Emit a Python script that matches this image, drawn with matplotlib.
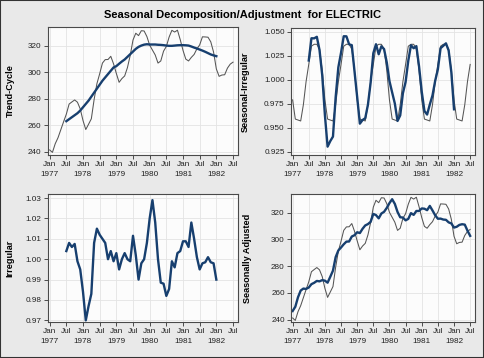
import matplotlib
matplotlib.use("Agg")
import matplotlib.pyplot as plt
from matplotlib.patches import Rectangle
from matplotlib.ticker import FormatStrFormatter
import numpy as np

plt.rcParams['font.family'] = ['Liberation Sans', 'DejaVu Sans']

# monthly series, Jan 1977 .. Jul 1982
original = [241.3, 239.5, 246.0, 250.5, 256.5, 262.5, 268.3, 275.9, 277.5, 279.0, 277.3, 272.3,
            263.5, 256.7, 260.7, 264.8, 279.3, 291.2, 298.7, 306.8, 309.4, 309.5, 311.9, 306.2,
            299.0, 292.3, 295.1, 297.1, 303.4, 312.6, 324.2, 329.3, 327.5, 331.2, 331.0, 326.8,
            320.3, 316.6, 312.9, 306.8, 308.4, 315.8, 319.3, 326.4, 331.5, 330.2, 331.6, 324.5,
            316.4, 309.8, 308.4, 311.1, 313.3, 317.5, 320.5, 326.6, 326.5, 326.3, 322.8, 315.1,
            302.4, 296.8, 297.8, 298.0, 303.0, 306.0, 307.5]

seasonal = [0.979, 0.959, 0.958, 0.957, 0.974, 0.998, 1.016, 1.035, 1.037, 1.037, 1.032, 1.010,
            0.979, 0.959, 0.958, 0.957, 0.974, 0.998, 1.016, 1.035, 1.037, 1.037, 1.032, 1.010,
            0.979, 0.959, 0.958, 0.957, 0.974, 0.998, 1.016, 1.035, 1.037, 1.037, 1.032, 1.010,
            0.979, 0.959, 0.958, 0.957, 0.974, 0.998, 1.016, 1.035, 1.037, 1.037, 1.032, 1.010,
            0.979, 0.959, 0.958, 0.957, 0.974, 0.998, 1.016, 1.035, 1.037, 1.037, 1.032, 1.010,
            0.979, 0.959, 0.958, 0.957, 0.974, 0.998, 1.016]

seas_adj = [246.5, 249.7, 256.8, 261.8, 263.3, 263.0, 264.1, 266.6, 267.6, 269.0, 268.7, 269.6,
            269.2, 267.7, 272.1, 276.7, 286.8, 291.8, 294.0, 296.4, 298.4, 298.5, 302.2, 303.2,
            305.4, 304.8, 308.0, 310.5, 311.5, 313.2, 319.1, 318.2, 315.8, 319.4, 320.7, 323.6,
            327.2, 330.1, 326.6, 320.6, 316.6, 316.4, 314.3, 315.4, 319.7, 318.4, 321.3, 321.3,
            323.2, 323.0, 321.9, 325.1, 321.7, 318.1, 315.5, 315.6, 314.9, 314.7, 312.8, 312.0,
            308.9, 309.5, 310.9, 311.4, 311.1, 306.6, 302.7]

# centred components, Jul 1977 .. Jan 1982
trend = [263.0, 264.5, 266.0, 267.5, 269.0, 271.0,
         273.5, 276.0, 278.5, 281.5, 284.5, 287.5, 290.5, 293.5, 296.0, 298.5, 301.0, 303.5,
         304.5, 306.3, 308.0, 309.5, 311.5, 313.5, 315.5, 317.5, 319.0, 320.0, 320.7, 321.0,
         320.8, 320.8, 320.8, 320.6, 320.5, 320.3, 320.0, 319.8, 319.8, 320.0, 320.2, 320.3,
         320.3, 320.2, 320.0, 319.3, 318.5, 317.8, 317.0, 316.2, 315.3, 314.3, 313.3, 312.6,
         312.0]

seas_irr = [1.0201, 1.0433, 1.0432, 1.0448, 1.0310, 1.0050,
            0.9633, 0.9302, 0.9360, 0.9407, 0.9818, 1.0130, 1.0282, 1.0454, 1.0453, 1.0370, 1.0361, 1.0090,
            0.9819, 0.9542, 0.9580, 0.9599, 0.9740, 0.9970, 1.0277, 1.0371, 1.0266, 1.0349, 1.0320, 1.0181,
            0.9986, 0.9868, 0.9752, 0.9570, 0.9628, 0.9860, 0.9977, 1.0199, 1.0360, 1.0329, 1.0351, 1.0140,
            0.9876, 0.9674, 0.9637, 0.9742, 0.9837, 0.9990, 1.0109, 1.0329, 1.0354, 1.0380, 1.0305, 1.0080,
            0.9692]

irregular = [1.004, 1.008, 1.006, 1.0075, 0.999, 0.995,
             0.984, 0.970, 0.977, 0.983, 1.008, 1.015, 1.012, 1.010, 1.008, 1.000, 1.004, 0.999,
             1.003, 0.995, 1.000, 1.003, 1.000, 0.999, 1.0115, 1.002, 0.990, 0.998, 1.000, 1.008,
             1.020, 1.029, 1.018, 1.000, 0.9885, 0.988, 0.982, 0.9854, 0.999, 0.996, 1.003, 1.004,
             1.0088, 1.0088, 1.006, 1.018, 1.010, 1.001, 0.995, 0.998, 0.9985, 1.001, 0.9985, 0.998,
             0.990]

years = ['1977', '1978', '1979', '1980', '1981', '1982']

t_full = np.arange(len(original))
t_mid = np.arange(6, 6 + len(trend))

tick_pos = np.arange(0, 67, 6)
tick_lab = []
for k in range(len(tick_pos)):
    if k % 2 == 0:
        tick_lab.append('Jan\n' + years[k // 2])
    else:
        tick_lab.append('Jul')

THICK = '#173f6f'
THIN = '#555555'

W, H = 484, 358
fig = plt.figure(figsize=(W / 100, H / 100), dpi=100)
fig.patch.set_facecolor('#e9e9e9')


def panel(l, t, r, b):
    ax = fig.add_axes([l / W, 1 - b / H, (r - l) / W, (b - t) / H])
    ax.set_facecolor('#fcfcfc')
    for s in ax.spines.values():
        s.set_color('#4a4a4a')
        s.set_linewidth(0.8)
    ax.set_xticks(tick_pos)
    ax.set_xticklabels(tick_lab, linespacing=1.6)
    ax.set_xlim(-0.6, 67.8)
    ax.tick_params(direction='out', length=3, width=0.6, color='#333333',
                   labelsize=5.9, pad=1.5, labelcolor='#222222')
    ax.grid(True, color='#e4e4e4', linewidth=0.6)
    ax.set_axisbelow(True)
    return ax


ax1 = panel(48, 27, 238, 155)
ax1.plot(t_full, original, color=THIN, lw=0.75)
ax1.plot(t_mid, trend, color=THICK, lw=1.7)
ax1.set_ylim(237.5, 334)
ax1.set_yticks([240, 260, 280, 300, 320])
ax1.set_ylabel('Trend-Cycle', fontsize=6.6, fontweight='bold')
ax1.yaxis.set_label_coords(-0.176, 0.5)

ax2 = panel(291, 28, 475, 155)
ax2.plot(t_full, seasonal, color=THIN, lw=0.75)
ax2.plot(t_mid, seas_irr, color=THICK, lw=1.7)
ax2.set_ylim(0.9215, 1.054)
ax2.set_yticks([0.925, 0.950, 0.975, 1.000, 1.025, 1.050])
ax2.yaxis.set_major_formatter(FormatStrFormatter('%.3f'))
ax2.set_ylabel('Seasonal-Irregular', fontsize=6.6, fontweight='bold')
ax2.yaxis.set_label_coords(-0.225, 0.5)

ax3 = panel(48, 194, 238, 322)
ax3.plot(t_mid, irregular, color=THICK, lw=1.7)
ax3.set_ylim(0.9692, 1.032)
ax3.set_yticks([0.97, 0.98, 0.99, 1.00, 1.01, 1.02, 1.03])
ax3.yaxis.set_major_formatter(FormatStrFormatter('%.2f'))
ax3.set_ylabel('Irregular', fontsize=6.6, fontweight='bold')
ax3.yaxis.set_label_coords(-0.179, 0.5)

ax4 = panel(291, 194, 475, 322)
ax4.plot(t_full, original, color=THIN, lw=0.75)
ax4.plot(t_full, seas_adj, color=THICK, lw=1.7)
ax4.set_ylim(238.3, 334)
ax4.set_yticks([240, 260, 280, 300, 320])
ax4.set_ylabel('Seasonally Adjusted', fontsize=6.6, fontweight='bold')
ax4.yaxis.set_label_coords(-0.212, 0.5)

fig.text(0.5, 1 - 15.5 / H, 'Seasonal Decomposition/Adjustment  for ELECTRIC',
         ha='center', va='center', fontsize=8.0, fontweight='bold')

fig.patches.append(Rectangle((0, 0), 1, 1, transform=fig.transFigure, fill=False,
                             edgecolor='#333333', linewidth=1.5))

fig.savefig('out.png', dpi=100, facecolor=fig.get_facecolor())
